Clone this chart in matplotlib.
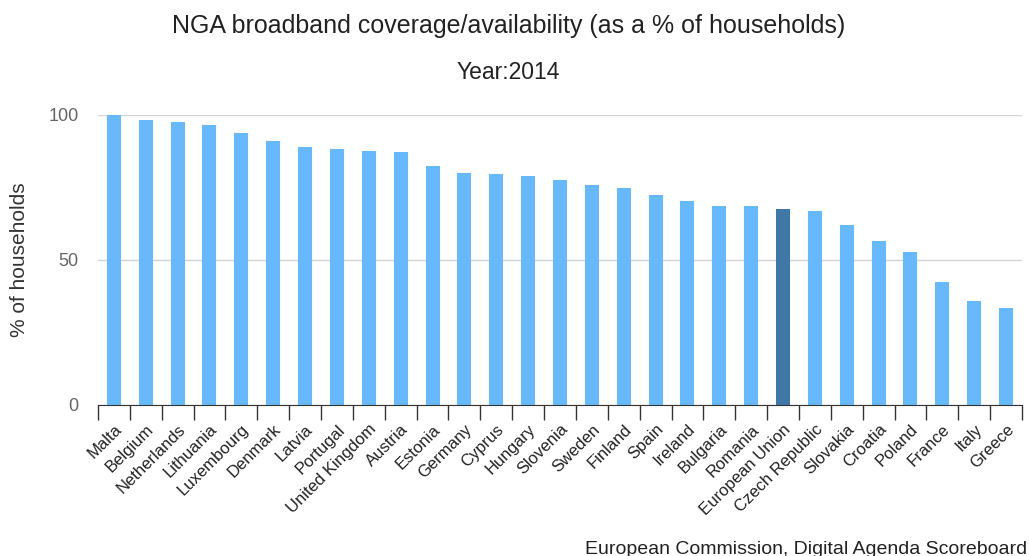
import matplotlib.pyplot as plt
import numpy as np

plt.rcParams['font.family'] = ['Liberation Sans', 'DejaVu Sans']

paises = ['Malta', 'Belgium', 'Netherlands', 'Lithuania', 'Luxembourg', 'Denmark',
          'Latvia', 'Portugal', 'United Kingdom', 'Austria', 'Estonia', 'Germany',
          'Cyprus', 'Hungary', 'Slovenia', 'Sweden', 'Finland', 'Spain', 'Ireland',
          'Bulgaria', 'Romania', 'European Union', 'Czech Republic', 'Slovakia',
          'Croatia', 'Poland', 'France', 'Italy', 'Greece']
cobertura = [100.0, 98.3, 97.6, 96.6, 93.8, 91.0, 89.0, 88.3, 87.6, 87.2, 82.4, 80.0,
             79.7, 79.0, 77.6, 75.9, 74.8, 72.4, 70.3, 68.6, 68.6, 67.6, 66.9, 62.1,
             56.6, 52.8, 42.4, 35.9, 33.4]
destaque = 'European Union'

fig = plt.figure(figsize=(10.29, 5.56), dpi=100)
ax = fig.add_axes([0.0952, 0.2716, 0.8980, 0.5216])

x = np.arange(len(paises))
cores = ['#3f77a6' if p == destaque else '#66b8ff' for p in paises]
ax.bar(x, cobertura, width=0.44, color=cores, zorder=3, clip_on=False)

ax.set_xlim(-0.5, len(paises) - 0.5)
ax.set_ylim(0, 100)
ax.set_yticks([0, 50, 100])
ax.yaxis.grid(True, color='#d4d4d4', linewidth=1, zorder=0)
ax.tick_params(axis='y', length=0, pad=14, labelsize=13, labelcolor='#666666')

ax.set_xticks(x)
ax.set_xticklabels(paises, rotation=45, ha='right', rotation_mode='anchor', fontsize=12,
                   color='#222222')
ax.tick_params(axis='x', which='major', length=0, pad=12)
ax.set_xticks(np.arange(-0.5, len(paises)), minor=True)
ax.tick_params(axis='x', which='minor', length=11, width=1, color='#333333')

for lado in ['top', 'right', 'left']:
    ax.spines[lado].set_visible(False)
ax.spines['bottom'].set_color('#333333')
ax.spines['bottom'].set_zorder(4)

ax.set_ylabel('% of households', fontsize=15, color='#333333', labelpad=14)

fig.text(0.494, 0.953, 'NGA broadband coverage/availability (as a % of households)',
         ha='center', va='center', fontsize=18, color='#222222')
fig.text(0.494, 0.870, 'Year:2014', ha='center', va='center', fontsize=16.5,
         color='#222222')
fig.text(0.998, 0.012, 'European Commission, Digital Agenda Scoreboard', ha='right',
         va='center', fontsize=14, color='#222222')

fig.savefig('out.png', dpi=100)
